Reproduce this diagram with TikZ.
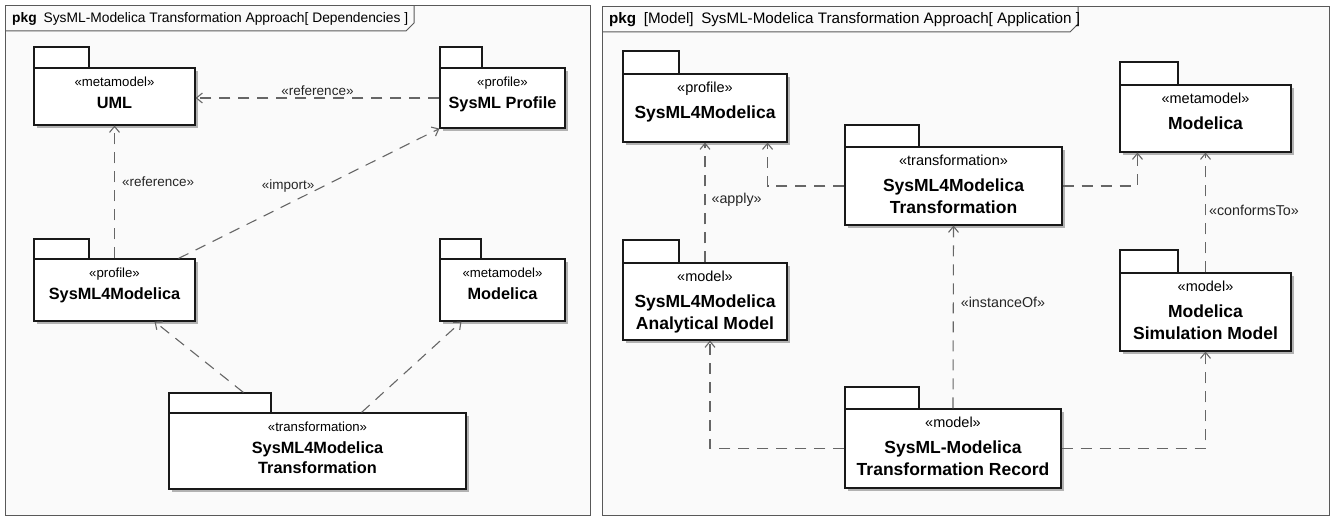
\documentclass[tikz,border=0pt]{standalone}
\usepackage{fontspec}
\setmainfont{Liberation Sans}
\usetikzlibrary{arrows.meta,calc}
\tikzset{
 frameline/.style={draw=black!65, line width=1pt},
 pkgbody/.style={draw=black!90, line width=1.1pt, fill=white, inner sep=0pt},
 pkgtab/.style={draw=black!90, line width=1.1pt, fill=white},
 pkgshadow/.style={fill=black!30},
 dep/.style={draw=black!60, line width=1.1pt, dash pattern=on 11pt off 8pt, -{Straight Barb[length=6pt,width=10pt]}},
 hdr/.style={inner sep=0pt, anchor=base west},
}
% #1 name, #2 x1, #3 y1, #4 x2, #5 y2, #6 tab right x, #7 tab top y, #8 stereotype, #9 name text
\newcommand\pkgbox[9]{%
 \fill[pkgshadow] (#2+3,#3+3) rectangle (#4+3,#5+3);
 \draw[pkgtab] (#2,#7) rectangle (#6,#3);
 \node[pkgbody, minimum width={(#4-#2)*1pt}, minimum height={(#5-#3)*1pt}] (#1) at ({(#2+#4)/2},{(#3+#5)/2}) {};
 \node[stereo] (#1-st) at ($(#1.north)+(0,\stoff)$) {«#8»};
 \node[pname] (#1-nm) at ($(#1.north)+(0,\nmoff)$) {\strut#9};
}
\begin{document}
\begin{tikzpicture}[x=1pt,y=-1pt]
\useasboundingbox (0,0) rectangle (1335,516);
% frames
\draw[frameline, fill=black!2] (5,6) rectangle (590,515);
\draw[frameline] (5,31) -- (406,31) -- (414,23) -- (414,6);
\node[hdr, font=\fontsize{13.8}{16}\selectfont] (h1) at (12,23) {\textbf{pkg}\enspace SysML-Modelica Transformation Approach[ Dependencies ]};
\draw[frameline, fill=black!2] (602,7) rectangle (1329,515);
\draw[frameline] (602,32) -- (1070,32) -- (1078,24) -- (1078,7);
\node[hdr, font=\fontsize{15.2}{17}\selectfont] (h2) at (609,24) {\textbf{pkg}\enspace [Model]\enspace SysML-Modelica Transformation Approach[ Application ]};

% ---------- left diagram ----------
\begin{scope}[
 stereo/.style={font=\fontsize{13.2}{15}\selectfont, inner sep=0pt, anchor=base},
 pname/.style={font=\bfseries\fontsize{16.3}{20}\selectfont, align=center, inner sep=0pt, anchor=north},
 deplabel/.style={font=\fontsize{13.5}{15}\selectfont, inner sep=1pt, text=black!85}]
\def\stoff{19.5}\def\nmoff{27}
\pkgbox{uml}{34}{68}{195}{125}{89}{47}{metamodel}{UML}
\pkgbox{sysprof}{440}{68}{565}{128}{482}{47}{profile}{SysML Profile}
\pkgbox{s4m}{34}{259}{195}{321}{89}{239}{profile}{SysML4Modelica}
\pkgbox{mod1}{440}{259}{565}{321}{481}{239}{metamodel}{Modelica}
\pkgbox{tr1}{169}{413}{466}{489}{271}{393}{transformation}{SysML4Modelica\\Transformation}

\draw[dep] (sysprof.west) -- node[deplabel, above, pos=0.5, yshift=1pt] {«reference»} (uml.east |- sysprof.west);
\draw[dep] (s4m.north -| uml.south) -- node[deplabel, right, pos=0.575, xshift=6pt] {«reference»} (uml.south);
\draw[dep] ([xshift=-17pt]s4m.north east) -- node[deplabel, pos=0.42, above, yshift=10pt] {«import»} (sysprof.south west);
\draw[dep] ($(tr1.north west)+(75,-20)$) -- ([xshift=40pt]s4m.south);
\draw[dep] ([xshift=44pt]tr1.north) -- ([xshift=22pt]mod1.south west);
\end{scope}

% ---------- right diagram ----------
\begin{scope}[
 stereo/.style={font=\fontsize{14.5}{16}\selectfont, inner sep=0pt, anchor=base},
 pname/.style={font=\bfseries\fontsize{17.5}{22}\selectfont, align=center, inner sep=0pt, anchor=north},
 deplabel/.style={font=\fontsize{14.3}{16}\selectfont, inner sep=1pt, text=black!85}]
\def\stoff{19}\def\nmoff{29.1}
\pkgbox{prof2}{623}{74}{787}{142}{679}{51}{profile}{SysML4Modelica}
\pkgbox{tr2}{845}{147}{1062}{225}{919}{125}{transformation}{SysML4Modelica\\Transformation}
\pkgbox{mod2}{1120}{85}{1291}{152}{1178}{62}{metamodel}{Modelica}
\pkgbox{anal}{623}{263}{787}{340}{679}{240}{model}{SysML4Modelica\\Analytical Model}
\pkgbox{sim}{1120}{273}{1291}{351}{1178}{250}{model}{Modelica\\Simulation Model}
\pkgbox{rec}{845}{409}{1061}{488}{919}{387}{model}{SysML-Modelica\\Transformation Record}

\draw[dep] (anal.north) -- node[deplabel, right, pos=0.52, xshift=5pt] {«apply»} (prof2.south);
\draw[dep] (tr2.west) -| ([xshift=-20pt]prof2.south east);
\draw[dep] (tr2.east) -| ([xshift=18pt]mod2.south west);
\draw[dep] (sim.north) -- node[deplabel, right, pos=0.52, xshift=2pt] {«conformsTo»} (mod2.south);
\draw[dep] (rec.north) -- node[deplabel, right, pos=0.58, xshift=6pt] {«instanceOf»} (tr2.south);
\draw[dep] (rec.west) -| ([xshift=5pt]anal.south);
\draw[dep] (rec.east) -| (sim.south);
\end{scope}
\end{tikzpicture}
\end{document}
